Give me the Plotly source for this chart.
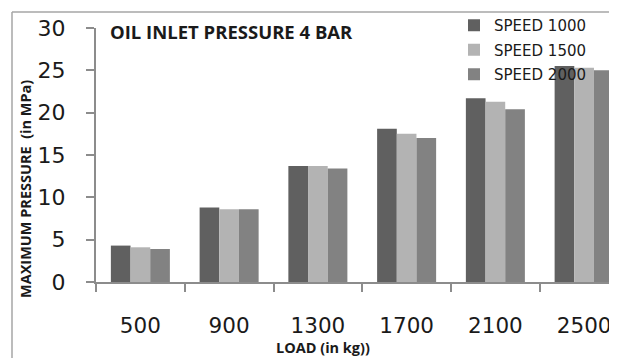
import plotly.graph_objects as go

loads = ["500", "900", "1300", "1700", "2100", "2500"]
speed_1000 = [4.3, 8.8, 13.7, 18.1, 21.7, 25.5]
speed_1500 = [4.1, 8.6, 13.7, 17.5, 21.3, 25.3]
speed_2000 = [3.9, 8.6, 13.4, 17.0, 20.4, 25.0]
series_names = ["SPEED 1000", "SPEED 1500", "SPEED 2000"]
series_colors = ["#606060", "#b3b3b3", "#828282"]

# the page body has an 8px margin; work in window pixels and convert
OFF = 8
W, H = 617 - OFF, 358 - OFF
L, T, B, R = 96 - OFF, 28 - OFF, 358 - 282, 0
pw, ph = W - L - R, H - T - B

def px(x):
    return (x - OFF - L) / pw

def py(y):
    return (H - B - (y - OFF)) / ph

fig = go.Figure()
for name, vals, col in zip(series_names, [speed_1000, speed_1500, speed_2000], series_colors):
    fig.add_trace(go.Bar(x=loads, y=vals, name=name, marker=dict(color=col, line=dict(width=0)),
                         legendgroup=name))

cat_w = 88.75
axis_col = "#8c8c8c"
fig.update_layout(
    width=W, height=H,
    margin=dict(l=L, r=R, t=T, b=B, autoexpand=False),
    paper_bgcolor="white", plot_bgcolor="white",
    barmode="group", bargap=0.335, bargroupgap=0,
    font=dict(family="DejaVu Sans", color="#1a1a1a"),
    showlegend=True,
    legend=dict(x=px(454), y=py(9), xanchor="left", yanchor="top",
                font=dict(family="DejaVu Sans", size=15, color="#1a1a1a"),
                bgcolor="rgba(0,0,0,0)", tracegroupgap=2, itemclick=False),
    xaxis=dict(type="category", range=[-0.5, -0.5 + pw / cat_w], showline=True, linecolor=axis_col, linewidth=2,
               ticks="outside", tickson="boundaries", ticklen=8, tickcolor=axis_col, tickwidth=2,
               tickfont=dict(family="DejaVu Sans", size=21.5, color="#1a1a1a"),
               ticklabelstandoff=23, showgrid=False, zeroline=False, automargin=False),
    yaxis=dict(range=[0, 30], dtick=5, showline=True, linecolor=axis_col, linewidth=2,
               ticks="outside", ticklen=8, tickcolor=axis_col, tickwidth=2,
               tickfont=dict(family="DejaVu Sans", size=22, color="#1a1a1a"),
               ticklabelstandoff=16, showgrid=False, zeroline=False, automargin=False),
    annotations=[
        dict(text="<b>OIL INLET PRESSURE 4 BAR</b>", x=px(108), y=py(32), xref="paper", yref="paper",
             xanchor="left", yanchor="middle", showarrow=False,
             font=dict(family="Open Sans", size=18.5, color="#1a1a1a")),
        dict(text="<b>LOAD (in kg))</b>", x=px(323), y=py(347), xref="paper", yref="paper",
             xanchor="center", yanchor="middle", showarrow=False,
             font=dict(family="Open Sans", size=14.5, color="#1a1a1a")),
        dict(text="<b>MAXIMUM PRESSURE  (in MPa)</b>", x=px(25), y=py(189), xref="paper", yref="paper",
             xanchor="center", yanchor="middle", showarrow=False, textangle=-90,
             font=dict(family="Open Sans", size=14.5, color="#1a1a1a")),
    ],
    shapes=[
        dict(type="line", xref="paper", yref="paper", x0=px(12), x1=px(12), y0=py(12), y1=py(420),
             line=dict(color="#a6a6a6", width=1.5)),
        dict(type="line", xref="paper", yref="paper", x0=px(12), x1=px(700), y0=py(12), y1=py(12),
             line=dict(color="#a6a6a6", width=1.5)),
    ],
)

fig.write_html("out.html")
